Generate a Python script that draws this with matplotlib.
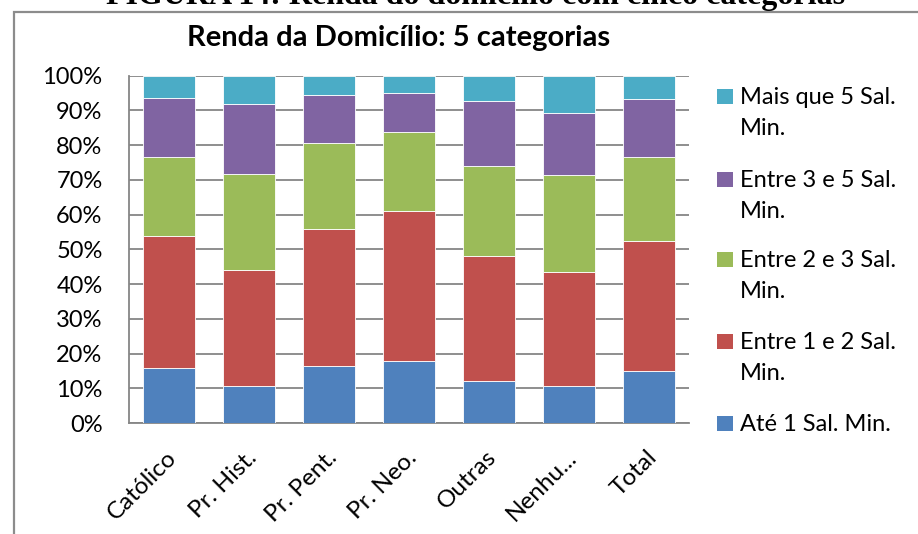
import matplotlib
matplotlib.use("Agg")
import matplotlib.pyplot as plt
from matplotlib.patches import Rectangle
from matplotlib.transforms import ScaledTranslation
import numpy as np

categories = ["Católico", "Pr. Hist.", "Pr. Pent.", "Pr. Neo.", "Outras", "Nenhu...", "Total"]
ate1 = [15.8, 10.6, 16.3, 17.8, 12.0, 10.6, 14.9]
entre1e2 = [37.9, 33.5, 39.6, 43.1, 36.2, 32.8, 37.5]
entre2e3 = [23.0, 27.6, 24.8, 22.8, 25.9, 28.1, 24.3]
entre3e5 = [16.9, 20.1, 13.7, 11.3, 18.6, 17.8, 16.6]
mais5 = [6.4, 8.2, 5.6, 5.0, 7.3, 10.7, 6.7]
series_labels = ["Até 1 Sal. Min.", "Entre 1 e 2 Sal.\nMin.", "Entre 2 e 3 Sal.\nMin.",
                 "Entre 3 e 5 Sal.\nMin.", "Mais que 5 Sal.\nMin."]
colors = ["#4F81BD", "#C0504D", "#9BBB59", "#8064A2", "#4BACC6"]
yticks = [0, 10, 20, 30, 40, 50, 60, 70, 80, 90, 100]
ytick_labels = [f"{v}%" for v in yticks]
title = "Renda da Domicílio: 5 categorias"
fig_caption = "FIGURA 14: Renda do domicílio com cinco categorias"

W, H = 918, 534
fig = plt.figure(figsize=(W / 100, H / 100), dpi=100)
font = ["Lato", "DejaVu Sans"]

# outer frame
fig.patches.append(Rectangle((14 / W, -0.1), 1.2, (H - 12) / H + 0.1, transform=fig.transFigure,
                             fill=False, edgecolor="#8c8c8c", linewidth=1.6, zorder=0))
fig.text(476 / W, 1 - 4 / H, fig_caption, ha="center", va="baseline",
         family="Liberation Serif", fontweight="bold", fontsize=23)

ax = fig.add_axes([129 / W, (H - 423) / H, 560 / W, (423 - 75.7) / H])
data = [ate1, entre1e2, entre2e3, entre3e5, mais5]
x = np.arange(len(categories))
bottom = np.zeros(len(categories))
for vals, col, lab in zip(data, colors, series_labels):
    vals = np.array(vals)
    ax.bar(x, vals, 0.65, bottom=bottom, color=col, edgecolor="white", linewidth=0.6,
           label=lab, zorder=3)
    bottom += vals

ax.set_xlim(-0.5, len(categories) - 0.5)
ax.set_ylim(0, 100)
ax.set_yticks(yticks)
ax.set_yticklabels(ytick_labels, family=font, fontsize=17)
ax.yaxis.grid(True, color="#868686", linewidth=1.3, zorder=0)
ax.set_axisbelow(True)
ax.tick_params(axis="y", length=0, pad=19)
ax.tick_params(axis="x", length=0, pad=17)
ax.set_xticks(x)
ax.set_xticklabels(categories, rotation=45, ha="right", rotation_mode="anchor",
                   family=font, fontsize=17.5)
off = ScaledTranslation(-3 / 100, 0, fig.dpi_scale_trans)
for lbl in ax.get_xticklabels():
    lbl.set_transform(lbl.get_transform() + off)
for s in ["top", "right"]:
    ax.spines[s].set_visible(False)
for s in ["left", "bottom"]:
    ax.spines[s].set_color("#868686")
    ax.spines[s].set_linewidth(1.3)

fig.text(399 / W, 1 - 46 / H, title, ha="center", va="baseline", family=font,
         fontweight="bold", fontsize=21)

# legend (Excel-style, top to bottom reversed)
leg_base = [104, 187, 267, 349, 431]
for i, (lab, col) in enumerate(zip(series_labels[::-1], colors[::-1])):
    yb = leg_base[i]
    fig.patches.append(Rectangle((717 / W, 1 - yb / H), 16 / W, 15 / H,
                                 transform=fig.transFigure, facecolor=col, edgecolor="none"))
    for k, line in enumerate(lab.split("\n")):
        fig.text(740 / W, 1 - (yb + 31 * k) / H, line, ha="left", va="baseline",
                 family=font, fontsize=17)

fig.savefig("out.png", dpi=100)
